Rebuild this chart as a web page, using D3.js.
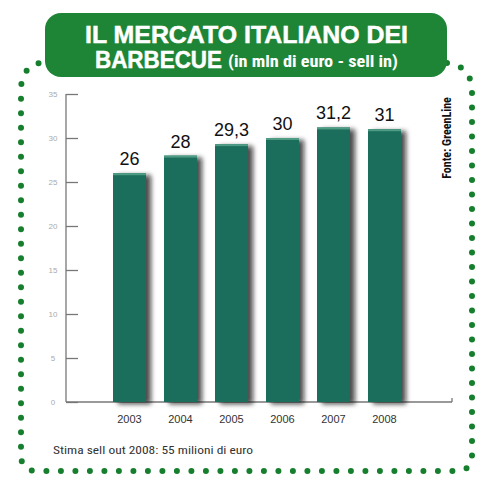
<!DOCTYPE html>
<html><head><meta charset="utf-8">
<script src="https://cdn.jsdelivr.net/npm/d3@7"></script>
<style>
html,body{margin:0;padding:0;background:#fff;}
svg{display:block;}
.narrow{font-family:"Liberation Sans Narrow","Arial Narrow","Roboto Condensed",sans-serif;}
.reg{font-family:"Liberation Sans",Arial,sans-serif;}
</style></head>
<body>
<svg id="chart" width="483" height="480"></svg>
<script>
const years = ["2003","2004","2005","2006","2007","2008"];
const values = [26, 28, 29.3, 30, 31.2, 31];
const yTicks = [0, 5, 10, 15, 20, 25, 30, 35];
const titleLine1 = "IL MERCATO ITALIANO DEI";
const titleLine2a = "BARBECUE";
const titleLine2b = "(in mln di euro - sell in)";
const sourceText = "Fonte: GreenLine";
const footnote = "Stima sell out 2008: 55 milioni di euro";

const svg = d3.select("#chart");
const defs = svg.append("defs");
const f = defs.append("filter").attr("id","shadow").attr("x","-30%").attr("y","-10%").attr("width","180%").attr("height","125%");
f.append("feDropShadow").attr("dx",5).attr("dy",2).attr("stdDeviation",2.5).attr("flood-color","#111").attr("flood-opacity",0.75);

// dotted frame
const dotPath = "M447,63 Q472,66 472,92 L472,455 Q472,471 456,471 L37,471 Q21,471 21,455 L21,90 Q21,64 46,62";
svg.append("path").attr("d",dotPath).attr("fill","none")
  .attr("stroke","#167f2d").attr("stroke-width",6).attr("stroke-linecap","round")
  .attr("stroke-dasharray","0 14.5");

// title box
svg.append("rect").attr("x",45).attr("y",13).attr("width",402).attr("height",64).attr("rx",16)
  .attr("fill","#1f8536");
svg.append("text").attr("x",85).attr("y",43).attr("textLength",323).attr("lengthAdjust","spacingAndGlyphs")
  .attr("font-family","Liberation Sans, Arial, sans-serif").attr("font-weight","bold").attr("font-size",24)
  .attr("fill","#fff").attr("stroke","#fff").attr("stroke-width",0.5).text(titleLine1);
svg.append("text").attr("x",95).attr("y",68).attr("textLength",127).attr("lengthAdjust","spacingAndGlyphs")
  .attr("font-family","Liberation Sans, Arial, sans-serif").attr("font-weight","bold").attr("font-size",24)
  .attr("fill","#fff").attr("stroke","#fff").attr("stroke-width",0.5).text(titleLine2a);
svg.append("text").attr("class","narrow").attr("x",228).attr("y",67).attr("textLength",170).attr("lengthAdjust","spacingAndGlyphs")
  .attr("font-weight","bold").attr("font-size",16)
  .attr("fill","#fff").text(titleLine2b);

// scales
const y = d3.scaleLinear().domain([0,35]).range([402,94]);
const x = d3.scaleBand().domain(years).range([113,401]).paddingInner(0.353).paddingOuter(0);

// axes
const axisColor = "#777";
svg.append("line").attr("x1",66).attr("x2",66).attr("y1",y(35)).attr("y2",y(0)).attr("stroke",axisColor).attr("stroke-width",1.3);
svg.append("line").attr("x1",66).attr("x2",452).attr("y1",y(0)).attr("y2",y(0)).attr("stroke",axisColor).attr("stroke-width",1.3);
svg.append("line").attr("x1",452).attr("x2",452).attr("y1",y(0)-4).attr("y2",y(0)).attr("stroke",axisColor).attr("stroke-width",1.3);

const yAxis = d3.axisRight(y).tickValues(yTicks).tickSize(12).tickFormat("");
const ga = svg.append("g").attr("transform","translate(66,0)").call(yAxis);
ga.select(".domain").remove();
ga.selectAll(".tick line").attr("stroke",axisColor).attr("stroke-width",1.3);
svg.selectAll(".ylab").data(yTicks).enter().append("text")
  .attr("x",53).attr("y",d=>y(d)+3).attr("text-anchor","middle")
  .attr("font-family","Liberation Sans, Arial, sans-serif").attr("font-size",8).attr("fill","#aaa")
  .text(d=>d);

// bars
const bars = svg.append("g");
bars.selectAll("rect.bar").data(values).enter().append("rect").attr("class","bar")
  .attr("x",(d,i)=>x(years[i])).attr("width",x.bandwidth())
  .attr("y",d=>y(d)).attr("height",d=>y(0)-y(d))
  .attr("fill","#1d6e5c").attr("filter","url(#shadow)");
bars.selectAll("rect.top").data(values).enter().append("rect").attr("class","top")
  .attr("x",(d,i)=>x(years[i])).attr("width",x.bandwidth())
  .attr("y",d=>y(d)).attr("height",2)
  .attr("fill","#4f9c85");

// value labels
svg.selectAll(".vlab").data(values).enter().append("text").attr("class","reg")
  .attr("x",(d,i)=>x(years[i])+x.bandwidth()/2).attr("y",d=>y(d)-8)
  .attr("text-anchor","middle").attr("font-size",18).attr("fill","#111")
  .text(d=>String(d).replace(".",","));

// year labels
svg.selectAll(".xlab").data(years).enter().append("text").attr("class","reg")
  .attr("x",d=>x(d)+x.bandwidth()/2).attr("y",423)
  .attr("text-anchor","middle").attr("font-size",11).attr("fill","#333")
  .text(d=>d);

// source
svg.append("text").attr("class","narrow").attr("transform","translate(451,138) rotate(-90)")
  .attr("text-anchor","middle").attr("font-weight","bold").attr("font-size",12).attr("fill","#111")
  .text(sourceText);

// footnote
svg.append("text").attr("class","narrow").attr("x",53).attr("y",454).attr("textLength",200).attr("lengthAdjust","spacingAndGlyphs")
  .attr("font-size",11.5).attr("fill","#333").text(footnote);
</script>
</body></html>
